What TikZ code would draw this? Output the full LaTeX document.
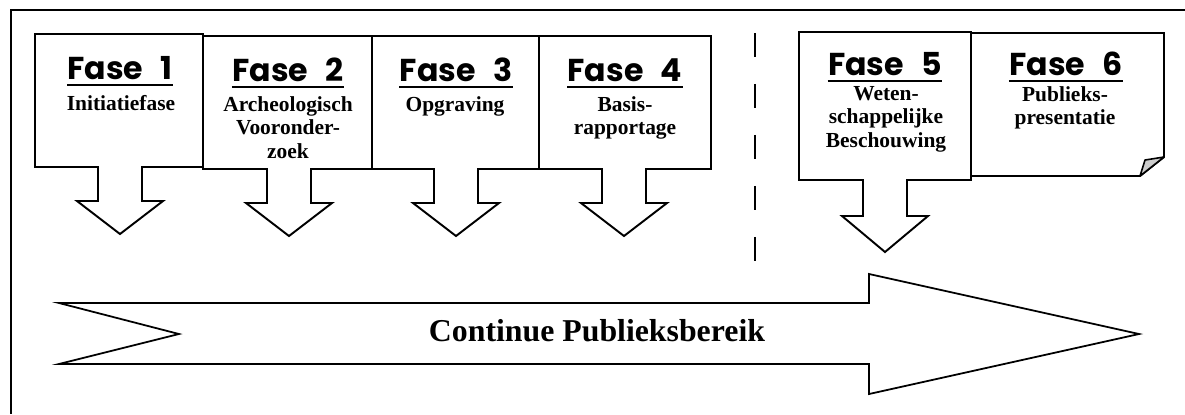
\documentclass[tikz,border=0pt]{standalone}
\usepackage{fontspec}
\setmainfont{Liberation Serif}
\newfontfamily\fasefont{Poppins}
\newcommand{\fasekop}{\fasefont\bfseries\fontsize{18}{20}\selectfont\spaceskip=0.55em\relax}

\begin{document}
\begin{tikzpicture}[x=0.02cm,y=-0.02cm,
    vak/.style={draw,fill=white,line width=1.1pt},
    kop/.style={inner sep=0pt,anchor=base,font=\fasekop},
    sub/.style={inner sep=0pt,anchor=north,align=center,font=\bfseries\fontsize{12.2}{13.4}\selectfont},
    streep/.style={line width=1.3pt}]
            \useasboundingbox (0,0) rectangle (1185,414);
            % kader
            \draw[line width=1.1pt] (1185,10) -- (11,10) -- (11,414);
            % fase 6, blad met omgekrulde hoek
            \draw[vak] (971,33) -- (1164,33) -- (1164,157) -- (1140,176) -- (971,176) -- cycle;
            \filldraw[fill=gray!40,line width=0.9pt,line join=round] (1140,176) -- (1145,160) -- (1164,157) -- cycle;
            % fasen met pijl
            \draw[vak] (799,32) -- (971,32) -- (971,180) -- (907,180) -- (907,216) -- (928,216) -- (885,252) -- (842,216) -- (863,216) -- (863,180) -- (799,180) -- cycle;
            \draw[vak] (35,34) -- (203,34) -- (203,167) -- (142,167) -- (142,201) -- (163,201) -- (120,234) -- (77,201) -- (98,201) -- (98,167) -- (35,167) -- cycle;
            \draw[vak] (203,36) -- (372,36) -- (372,169) -- (311,169) -- (311,203) -- (332,203) -- (289,236) -- (246,203) -- (267,203) -- (267,169) -- (203,169) -- cycle;
            \draw[vak] (372,36) -- (539,36) -- (539,169) -- (478,169) -- (478,203) -- (499,203) -- (456,236) -- (413,203) -- (434,203) -- (434,169) -- (372,169) -- cycle;
            \draw[vak] (539,36) -- (711,36) -- (711,169) -- (646,169) -- (646,203) -- (667,203) -- (624,236) -- (581,203) -- (602,203) -- (602,169) -- (539,169) -- cycle;
            % scheiding
            \draw[line width=0.9pt,dash pattern=on 0.48cm off 0.54cm] (755,33) -- (755,262);
            % grote pijl
            \draw[line width=1pt] (59,303) -- (869,303) -- (869,274) -- (1139,334) -- (869,394) -- (869,364) -- (59,364) -- (179,334) -- cycle;
            \node[font=\bfseries\fontsize{18.1}{20}\selectfont,anchor=base] (bereik) at (597,341) {Continue Publieksbereik};
            % teksten
            \node[kop] (f1) at (120,79) {Fase 1};
            \node[sub] (s1) at (121,95) {Initiatiefase};
            \node[kop] (f2) at (288,81) {Fase 2};
            \node[sub] (s2) at (288,96) {Archeologisch\\Vooronder-\\zoek};
            \node[kop] (f3) at (456,81) {Fase 3};
            \node[sub] (s3) at (455,96) {Opgraving};
            \node[kop] (f4) at (625,81) {Fase 4};
            \node[sub] (s4) at (625,96) {Basis-\\rapportage};
            \node[kop] (f5) at (885,75) {Fase 5};
            \node[sub] (s5) at (886,86) {Weten-\\schappelijke\\Beschouwing};
            \node[kop] (f6) at (1066,75) {Fase 6};
            \node[sub] (s6) at (1065,86) {Publieks-\\presentatie};
            % onderstrepen
            \draw[streep] ([yshift=-3.4pt]f1.base west) -- ([yshift=-3.4pt]f1.base east);
            \draw[streep] ([yshift=-3.4pt]f2.base west) -- ([yshift=-3.4pt]f2.base east);
            \draw[streep] ([yshift=-3.4pt]f3.base west) -- ([yshift=-3.4pt]f3.base east);
            \draw[streep] ([yshift=-3.4pt]f4.base west) -- ([yshift=-3.4pt]f4.base east);
            \draw[streep] ([yshift=-3.4pt]f5.base west) -- ([yshift=-3.4pt]f5.base east);
            \draw[streep] ([yshift=-3.4pt]f6.base west) -- ([yshift=-3.4pt]f6.base east);
        \end{tikzpicture}
\end{document}
